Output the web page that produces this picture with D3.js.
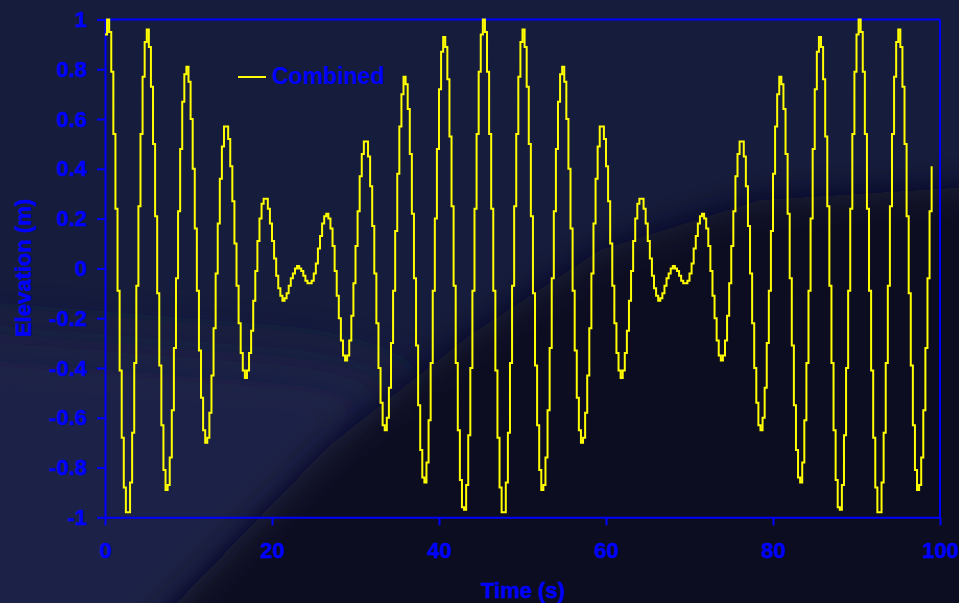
<!DOCTYPE html>
<html>
<head>
<meta charset="utf-8">
<script src="https://cdn.jsdelivr.net/npm/d3@7/dist/d3.min.js"></script>
<style>
  html, body { margin: 0; padding: 0; background: #151b3b; }
  svg { display: block; }
  text { font-family: "Liberation Sans", Arial, sans-serif; font-weight: bold; }
</style>
</head>
<body>
<svg id="chart" width="959" height="603"></svg>
<script>
// ---- data ----
const seriesName = "Combined";
const timeStart = 0;
const timeStep = 0.25; // seconds between samples
const elevation = [
 0.94, 1.00, 0.95, 0.79, 0.54, 0.24,-0.09,-0.41,-0.68,-0.88,
-0.98,-0.98,-0.86,-0.66,-0.38,-0.07, 0.25, 0.54, 0.77, 0.91,
 0.96, 0.89, 0.73, 0.50, 0.21,-0.10,-0.39,-0.63,-0.81,-0.89,
-0.87,-0.76,-0.57,-0.32,-0.04, 0.23, 0.48, 0.67, 0.78, 0.81,
 0.75, 0.60, 0.40, 0.16,-0.09,-0.33,-0.52,-0.65,-0.70,-0.68,
-0.58,-0.43,-0.24,-0.02, 0.18, 0.36, 0.49, 0.57, 0.57, 0.52,
 0.41, 0.27, 0.10,-0.07,-0.22,-0.34,-0.41,-0.44,-0.41,-0.34,
-0.25,-0.13,-0.01, 0.11, 0.20, 0.26, 0.28, 0.28, 0.24, 0.18,
 0.11, 0.04,-0.03,-0.08,-0.11,-0.13,-0.12,-0.10,-0.07,-0.04,
-0.02, 0.00, 0.01, 0.00,-0.01,-0.03,-0.05,-0.06,-0.06,-0.05,
-0.02, 0.02, 0.08, 0.13, 0.18, 0.21, 0.22, 0.20, 0.16, 0.09,
-0.01,-0.11,-0.20,-0.29,-0.35,-0.37,-0.35,-0.29,-0.19,-0.06,
 0.09, 0.23, 0.37, 0.46, 0.51, 0.51, 0.45, 0.33, 0.17,-0.02,
-0.22,-0.40,-0.54,-0.63,-0.65,-0.60,-0.48,-0.30,-0.09, 0.15,
 0.38, 0.57, 0.70, 0.77, 0.74, 0.64, 0.46, 0.22,-0.04,-0.31,
-0.55,-0.73,-0.84,-0.86,-0.78,-0.61,-0.38,-0.09, 0.20, 0.48,
 0.72, 0.87, 0.93, 0.89, 0.76, 0.53, 0.25,-0.07,-0.38,-0.65,
-0.85,-0.96,-0.97,-0.87,-0.67,-0.40,-0.09, 0.24, 0.54, 0.79,
 0.94, 1.00, 0.95, 0.79, 0.54, 0.24,-0.09,-0.41,-0.68,-0.88,
-0.98,-0.98,-0.86,-0.66,-0.38,-0.07, 0.25, 0.54, 0.77, 0.91,
 0.96, 0.89, 0.73, 0.50, 0.21,-0.10,-0.39,-0.63,-0.81,-0.89,
-0.87,-0.76,-0.57,-0.32,-0.04, 0.23, 0.48, 0.67, 0.78, 0.81,
 0.75, 0.60, 0.40, 0.16,-0.09,-0.33,-0.52,-0.65,-0.70,-0.68,
-0.58,-0.43,-0.24,-0.02, 0.18, 0.36, 0.49, 0.57, 0.57, 0.52,
 0.41, 0.27, 0.10,-0.07,-0.22,-0.34,-0.41,-0.44,-0.41,-0.34,
-0.25,-0.13,-0.01, 0.11, 0.20, 0.26, 0.28, 0.28, 0.24, 0.18,
 0.11, 0.04,-0.03,-0.08,-0.11,-0.13,-0.12,-0.10,-0.07,-0.04,
-0.02, 0.00, 0.01, 0.00,-0.01,-0.03,-0.05,-0.06,-0.06,-0.05,
-0.02, 0.02, 0.08, 0.13, 0.18, 0.21, 0.22, 0.20, 0.16, 0.09,
-0.01,-0.11,-0.20,-0.29,-0.35,-0.37,-0.35,-0.29,-0.19,-0.06,
 0.09, 0.23, 0.37, 0.46, 0.51, 0.51, 0.45, 0.33, 0.17,-0.02,
-0.22,-0.40,-0.54,-0.63,-0.65,-0.60,-0.48,-0.30,-0.09, 0.15,
 0.38, 0.57, 0.70, 0.77, 0.74, 0.64, 0.46, 0.22,-0.04,-0.31,
-0.55,-0.73,-0.84,-0.86,-0.78,-0.61,-0.38,-0.09, 0.20, 0.48,
 0.72, 0.87, 0.93, 0.89, 0.76, 0.53, 0.25,-0.07,-0.38,-0.65,
-0.85,-0.96,-0.97,-0.87,-0.67,-0.40,-0.09, 0.24, 0.54, 0.79,
 0.94, 1.00, 0.95, 0.79, 0.54, 0.24,-0.09,-0.41,-0.68,-0.88,
-0.98,-0.98,-0.86,-0.66,-0.38,-0.07, 0.25, 0.54, 0.77, 0.91,
 0.96, 0.89, 0.73, 0.50, 0.21,-0.10,-0.39,-0.63,-0.81,-0.89,
-0.87,-0.76,-0.57,-0.32,-0.04, 0.23, 0.41
];
const xTicks = [0, 20, 40, 60, 80, 100];
const xTickLabels = ["0", "20", "40", "60", "80", "100"];
const yTicks = [1, 0.8, 0.6, 0.4, 0.2, 0, -0.2, -0.4, -0.6, -0.8, -1];
const yTickLabels = ["1", "0.8", "0.6", "0.4", "0.2", "0", "-0.2", "-0.4", "-0.6", "-0.8", "-1"];
const xTitle = "Time (s)";
const yTitle = "Elevation (m)";

// ---- layout ----
const W = 959, H = 603;
const plot = { left: 105, right: 940, top: 19.5, bottom: 517.3 };
const axisColor = "#0000ff";
const lineColor = "#ffff00";

const svg = d3.select("#chart");
const defs = svg.append("defs");
defs.append("filter").attr("id", "blurA").attr("x", "-50%").attr("y", "-50%").attr("width", "200%").attr("height", "200%")
  .append("feGaussianBlur").attr("stdDeviation", 28);
defs.append("filter").attr("id", "blurB").attr("x", "-50%").attr("y", "-50%").attr("width", "200%").attr("height", "200%")
  .append("feGaussianBlur").attr("stdDeviation", 16);

// background
svg.append("rect").attr("width", W).attr("height", H).attr("fill", "#161c3c");
svg.append("path")
  .attr("d", "M-60,330 L320,360 L420,390 L150,660 L-60,660 Z")
  .attr("fill", "#1b2447").attr("filter", "url(#blurA)");
svg.append("path")
  .attr("d", "M140,640 L330,445 L470,335 L600,250 L760,200 L1000,185 L1000,660 Z")
  .attr("fill", "#0a0a23").attr("filter", "url(#blurB)");

// scales
const x = d3.scaleLinear().domain([0, 100]).range([plot.left, plot.right]);
const y = d3.scaleLinear().domain([-1, 1]).range([plot.bottom, plot.top]);

// frame (top and right)
svg.append("line").attr("x1", plot.left).attr("x2", plot.right).attr("y1", plot.top).attr("y2", plot.top)
  .attr("stroke", axisColor).attr("stroke-width", 2);
svg.append("line").attr("x1", plot.right).attr("x2", plot.right).attr("y1", plot.top).attr("y2", plot.bottom)
  .attr("stroke", axisColor).attr("stroke-width", 2);

// axes
const xAxis = d3.axisBottom(x).tickValues(xTicks).tickFormat((d, i) => xTickLabels[i])
  .tickSize(8).tickSizeOuter(0).tickPadding(17);
const yAxis = d3.axisLeft(y).tickValues(yTicks).tickFormat((d, i) => yTickLabels[i])
  .tickSize(8).tickSizeOuter(0).tickPadding(10);

const gx = svg.append("g").attr("transform", `translate(0,${plot.bottom})`).call(xAxis);
const gy = svg.append("g").attr("transform", `translate(${plot.left},0)`).call(yAxis);
[gx, gy].forEach(g => {
  g.select(".domain").attr("stroke", axisColor).attr("stroke-width", 2);
  g.selectAll(".tick line").attr("stroke", axisColor).attr("stroke-width", 2);
  g.selectAll(".tick text").attr("fill", axisColor)
    .attr("stroke", axisColor).attr("stroke-width", 0.4)
    .style("font-family", '"Liberation Sans", Arial, sans-serif')
    .style("font-weight", "bold").style("font-size", "22px");
});

// series
const data = elevation.map((v, i) => ({ t: timeStart + i * timeStep, v }));
const line = d3.line().x(d => x(d.t)).y(d => y(d.v)).curve(d3.curveStepAfter);
svg.append("path").datum(data).attr("d", line)
  .attr("fill", "none").attr("stroke", lineColor).attr("stroke-width", 2)
  .attr("stroke-linejoin", "miter");

// axis titles
svg.append("text").attr("x", 523).attr("y", 598).attr("text-anchor", "middle")
  .attr("fill", axisColor).attr("stroke", axisColor).attr("stroke-width", 0.4)
  .style("font-size", "22px").text(xTitle);
svg.append("text").attr("transform", "translate(31,268) rotate(-90)").attr("text-anchor", "middle")
  .attr("fill", axisColor).attr("stroke", axisColor).attr("stroke-width", 0.4)
  .style("font-size", "22px").text(yTitle);

// legend
const lg = svg.append("g");
lg.append("line").attr("x1", 238).attr("x2", 266).attr("y1", 77).attr("y2", 77)
  .attr("stroke", lineColor).attr("stroke-width", 2);
lg.append("text").attr("x", 272).attr("y", 84).attr("fill", axisColor)
  .style("font-size", "23px").text(seriesName);
</script>
</body>
</html>
